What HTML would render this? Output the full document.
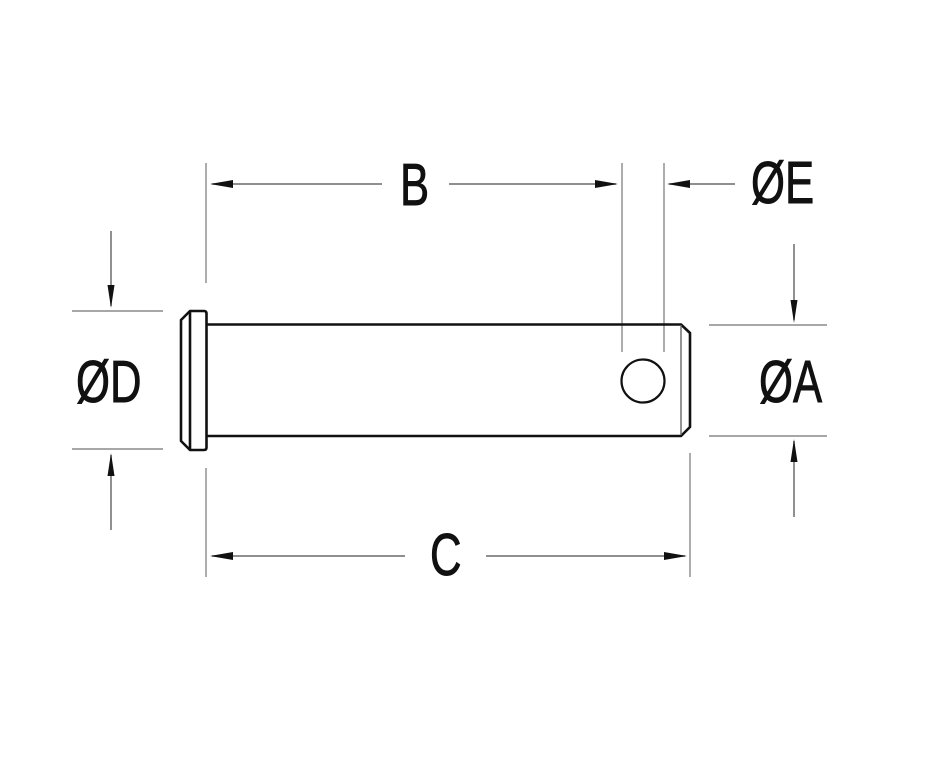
<!DOCTYPE html>
<html>
<head>
<meta charset="utf-8">
<style>
  html, body { margin: 0; padding: 0; background: #ffffff; }
  svg { display: block; }
  text { font-family: "Liberation Sans", "DejaVu Sans", sans-serif; font-size: 59px; fill: #111; stroke: #111; stroke-width: 0.9px; }
</style>
</head>
<body>
<svg width="940" height="760" viewBox="0 0 940 760" xmlns="http://www.w3.org/2000/svg">
  <rect width="940" height="760" fill="#ffffff"/>

  <!-- Extension lines -->
  <g stroke="#8a8a8a" stroke-width="1.4" fill="none">
    <line x1="206" y1="163" x2="206" y2="283"/>
    <line x1="206" y1="468" x2="206" y2="577"/>
    <line x1="690" y1="453" x2="690" y2="577"/>
    <line x1="622" y1="163" x2="622" y2="352"/>
    <line x1="664" y1="163" x2="664" y2="352"/>
    <line x1="72" y1="311" x2="163" y2="311"/>
    <line x1="72" y1="449" x2="163" y2="449"/>
    <line x1="709" y1="325" x2="827" y2="325"/>
    <line x1="709" y1="436" x2="827" y2="436"/>
  </g>

  <!-- Dimension lines -->
  <g stroke="#6a6a6a" stroke-width="1.5" fill="none">
    <line x1="212" y1="184" x2="382" y2="184"/>
    <line x1="449" y1="184" x2="616" y2="184"/>
    <line x1="669" y1="184" x2="735" y2="184"/>
    <line x1="212" y1="556" x2="405" y2="556"/>
    <line x1="486" y1="556" x2="685" y2="556"/>
    <line x1="111" y1="231" x2="111" y2="306"/>
    <line x1="111" y1="455" x2="111" y2="530"/>
    <line x1="794" y1="244" x2="794" y2="320"/>
    <line x1="794" y1="441" x2="794" y2="517"/>
  </g>

  <!-- Arrowheads -->
  <g fill="#111">
    <polygon points="210,184 233,180 233,188"/>
    <polygon points="618,184 595,180 595,188"/>
    <polygon points="667,184 690,180 690,188"/>
    <polygon points="210,556 233,552 233,560"/>
    <polygon points="687,556 664,552 664,560"/>
    <polygon points="111,308 107.5,285 114.5,285"/>
    <polygon points="111,453 107.5,476 114.5,476"/>
    <polygon points="794,323 790.5,300 797.5,300"/>
    <polygon points="794,439 790.5,462 797.5,462"/>
  </g>

  <!-- Pin outline -->
  <g stroke="#111" stroke-width="2.6" fill="none" stroke-linejoin="round">
    <!-- head -->
    <path d="M190,311 L204,311 Q206.5,311 206.5,313.5 L206.5,447.5 Q206.5,450 204,450 L190,450 L181,441 L181,320 Z"/>
    <line x1="190" y1="311" x2="190" y2="450"/>
    <!-- shaft -->
    <path d="M206.5,324.5 L681,324.5 L690,333 L690,427 L681,436 L206.5,436"/>
    <!-- hole -->
    <circle cx="643" cy="381" r="21.5" stroke-width="2.2"/>
  </g>
  <line x1="681" y1="325" x2="681" y2="435" stroke="#666" stroke-width="1.4"/>

  <!-- Labels -->
  <text transform="translate(400,205) scale(0.74,1)">B</text>
  <text transform="translate(430,575) scale(0.74,1)">C</text>
  <text transform="translate(751,203) scale(0.74,1)">ØE</text>
  <text transform="translate(76,402) scale(0.74,1)">ØD</text>
  <text transform="translate(759,402) scale(0.74,1)">ØA</text>
</svg>
</body>
</html>
